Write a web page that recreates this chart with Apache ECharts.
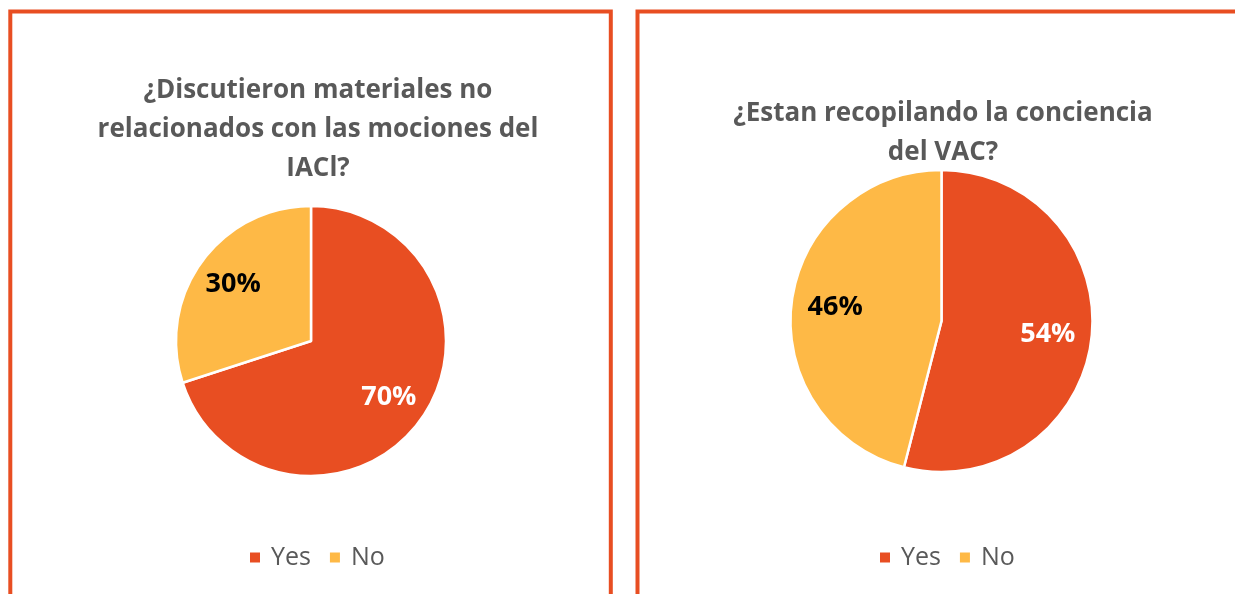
<!DOCTYPE html>
<html>
<head>
<meta charset="utf-8">
<script src="https://cdn.jsdelivr.net/npm/echarts@6/dist/echarts.min.js"></script>
<style>
html,body{margin:0;padding:0;background:#fff;}
#c{width:1235px;height:594px;}
</style>
</head>
<body>
<div id="c"></div>
<script>
const categories = ['Yes', 'No'];
const titles = [
  '¿Discutieron materiales no\nrelacionados con las mociones del\nIACl?',
  '¿Estan recopilando la conciencia\ndel VAC?'
];
const valuesLeft = [70, 30];
const valuesRight = [54, 46];

const sliceColors = ['#E84E22', '#FEB946'];
const labelColors = ['#FFFFFF', '#000000'];
const borderColor = '#E84E22';
const FONT = '"Open Sans", Lato, sans-serif';

function mkData(vals) {
  return categories.map((n, i) => ({ name: n, value: vals[i], itemStyle: { color: sliceColors[i] } }));
}
function mkLabelData(vals) {
  return categories.map((n, i) => ({
    name: n, value: vals[i],
    itemStyle: { color: 'rgba(0,0,0,0)', borderWidth: 0 },
    label: { color: labelColors[i] }
  }));
}
function pieSeries(vals, center, r) {
  return [
    {
      type: 'pie', center: center, radius: r, startAngle: 90, clockwise: true,
      label: { show: false }, labelLine: { show: false },
      itemStyle: { borderColor: '#fff', borderWidth: 2.5 },
      emphasis: { disabled: true }, animation: false,
      data: mkData(vals)
    },
    {
      type: 'pie', center: center, radius: [r * 0.38, r], startAngle: 90, clockwise: true,
      silent: true, animation: false, legendHoverLink: false,
      label: { show: true, position: 'inside', formatter: '{c}%', fontFamily: FONT, fontWeight: 'bold', fontSize: 27 },
      labelLine: { show: false },
      emphasis: { disabled: true },
      data: mkLabelData(vals)
    }
  ];
}

const chart = echarts.init(document.getElementById('c'), null, { renderer: 'canvas' });
chart.setOption({
  backgroundColor: '#fff',
  animation: false,
  color: sliceColors,
  graphic: [
    { type: 'rect', shape: { x: 10.3, y: 11.5, width: 600.5, height: 700 }, style: { fill: 'none', stroke: borderColor, lineWidth: 4 }, silent: true },
    { type: 'rect', shape: { x: 637.5, y: 11.5, width: 700, height: 700 }, style: { fill: 'none', stroke: borderColor, lineWidth: 4 }, silent: true }
  ],
  title: [
    { text: titles[0], left: 313, top: 66, textAlign: 'center',
      textStyle: { fontFamily: FONT, fontWeight: 'bold', fontSize: 26, color: '#595959', lineHeight: 39 } },
    { text: titles[1], left: 938, top: 89, textAlign: 'center',
      textStyle: { fontFamily: FONT, fontWeight: 'bold', fontSize: 26, color: '#595959', lineHeight: 39 } }
  ],
  legend: [
    { data: categories, left: 243, top: 540, icon: 'rect', itemWidth: 12, itemHeight: 12, itemGap: 17,
      selectedMode: false, seriesIndex: [0],
      textStyle: { fontFamily: FONT, fontSize: 25, color: '#595959', padding: [0, 0, 0, 5] } },
    { data: categories, left: 873, top: 540, icon: 'rect', itemWidth: 12, itemHeight: 12, itemGap: 17,
      selectedMode: false, seriesIndex: [2],
      textStyle: { fontFamily: FONT, fontSize: 25, color: '#595959', padding: [0, 0, 0, 5] } }
  ],
  series: [].concat(
    pieSeries(valuesLeft, [311, 341], 135),
    pieSeries(valuesRight, [941.5, 321], 151)
  )
});
</script>
</body>
</html>
